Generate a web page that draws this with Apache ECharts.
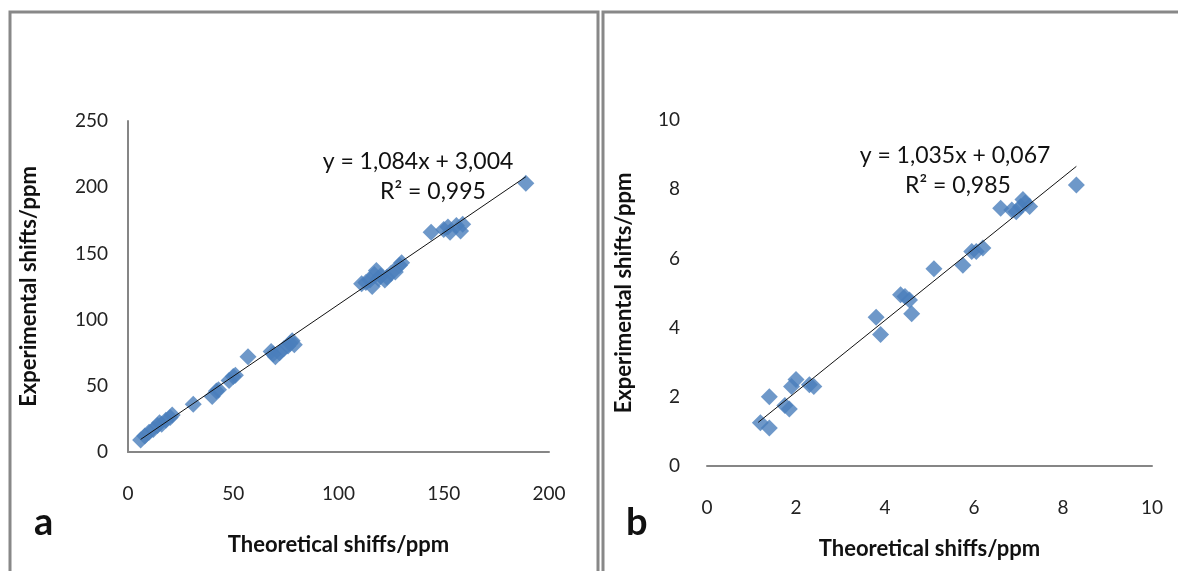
<!DOCTYPE html>
<html>
<head>
<meta charset="UTF-8">
<title>Shifts</title>
<script src="https://cdn.jsdelivr.net/npm/echarts@6/dist/echarts.min.js"></script>
<style>
  html, body { margin: 0; padding: 0; background: #fff; }
  #main { width: 1178px; height: 571px; }
</style>
</head>
<body>
<div id="main"></div>
<script>
// panel a: 13C shifts
var thA  = [6, 8, 10, 12, 14, 15, 16, 18, 20, 21, 31, 40, 42, 43, 48, 50, 51, 57, 68, 69, 70, 72, 74, 76, 77, 78, 79,
            111, 113, 115, 116, 117, 118, 119, 120, 122, 123, 125, 127, 129, 130, 144, 150, 152, 153, 156, 158, 159, 189];
var expA = [9, 12, 15, 17, 20, 22, 21, 24, 26, 28, 36, 42, 46, 47, 54, 57, 58, 72, 76, 74, 72, 75, 78, 80, 82, 84, 81,
            127, 128, 130, 125, 134, 137, 131, 133, 130, 132, 135, 136, 141, 143, 166, 168, 170, 166, 171, 167, 172, 203];
var trendA = [[6, 9.5], [189, 207.9]];

// panel b: 1H shifts
var thB  = [1.2, 1.4, 1.4, 1.75, 1.85, 1.9, 2.0, 2.3, 2.4, 3.8, 3.9, 4.35, 4.45, 4.55, 4.6, 5.1, 5.75, 5.95, 6.05, 6.2,
            6.6, 6.85, 6.95, 7.05, 7.1, 7.15, 7.25, 8.3];
var expB = [1.25, 1.1, 2.0, 1.75, 1.65, 2.3, 2.5, 2.35, 2.3, 4.3, 3.8, 4.95, 4.9, 4.8, 4.4, 5.7, 5.8, 6.2, 6.2, 6.3,
            7.45, 7.4, 7.35, 7.5, 7.7, 7.6, 7.5, 8.12];
var trendB = [[1.15, 1.26], [8.3, 8.66]];

var eqA = ['y = 1,084x + 3,004', 'R\u00b2 = 0,995'];
var eqB = ['y = 1,035x + 0,067', 'R\u00b2 = 0,985'];

function pairs(xs, ys) {
  var out = [];
  for (var i = 0; i < xs.length; i++) out.push([xs[i], ys[i]]);
  return out;
}

var font = 'Lato, "Open Sans", sans-serif';
var blue = '#4a7ebb';
var axisGrey = '#868686';

function xAx(idx, max, interval, showLine, gap) {
  return {
    type: 'value', gridIndex: idx, min: 0, max: max, interval: interval,
    name: 'Theoretical shiffs/ppm', nameLocation: 'middle', nameGap: gap,
    nameTextStyle: { fontFamily: font, fontWeight: 'bold', fontSize: 22, color: '#111' },
    axisLine: { show: showLine, lineStyle: { color: axisGrey, width: 2 } },
    axisTick: { show: false },
    splitLine: { show: false },
    axisLabel: { fontFamily: font, fontSize: 19, color: '#222', margin: 32 }
  };
}
function yAx(idx, max, interval, showLine, gap, margin) {
  return {
    type: 'value', gridIndex: idx, min: 0, max: max, interval: interval,
    name: 'Experimental shifts/ppm', nameLocation: 'middle', nameGap: gap,
    nameTextStyle: { fontFamily: font, fontWeight: 'bold', fontSize: 22, color: '#111' },
    axisLine: { show: showLine, lineStyle: { color: axisGrey, width: 2 } },
    axisTick: { show: false },
    splitLine: { show: false },
    axisLabel: { fontFamily: font, fontSize: 19, color: '#222', margin: margin }
  };
}

var chart = echarts.init(document.getElementById('main'));
var option = {
  animation: false,
  backgroundColor: '#fff',
  grid: [
    { left: 128, top: 121, width: 421, height: 331 },
    { left: 707, top: 120, width: 445, height: 346 }
  ],
  xAxis: [xAx(0, 200, 50, true, 82), xAx(1, 10, 2, true, 72)],
  yAxis: [yAx(0, 250, 50, true, 88, 20), yAx(1, 10, 2, false, 72, 27)],
  graphic: [
    { type: 'rect', shape: { x: 10, y: 12, width: 588, height: 620 },
      style: { fill: 'none', stroke: '#888', lineWidth: 3 } },
    { type: 'rect', shape: { x: 603, y: 12, width: 620, height: 620 },
      style: { fill: 'none', stroke: '#888', lineWidth: 3 } },
    { type: 'text', left: 34, top: 504, style: { text: 'a', font: 'bold 38px ' + font, fill: '#111' } },
    { type: 'text', left: 626, top: 504, style: { text: 'b', font: 'bold 38px ' + font, fill: '#111' } },
    { type: 'text', x: 418, y: 162, style: { text: eqA[0], font: '23px ' + font, fill: '#111', textAlign: 'center', textVerticalAlign: 'middle' } },
    { type: 'text', x: 433, y: 192, style: { text: eqA[1], font: '23px ' + font, fill: '#111', textAlign: 'center', textVerticalAlign: 'middle' } },
    { type: 'text', x: 955, y: 156, style: { text: eqB[0], font: '23px ' + font, fill: '#111', textAlign: 'center', textVerticalAlign: 'middle' } },
    { type: 'text', x: 958, y: 186, style: { text: eqB[1], font: '23px ' + font, fill: '#111', textAlign: 'center', textVerticalAlign: 'middle' } }
  ],
  series: [
    { type: 'scatter', xAxisIndex: 0, yAxisIndex: 0, symbol: 'diamond', symbolSize: [17, 17],
      itemStyle: { color: blue }, data: pairs(thA, expA), z: 2 },
    { type: 'line', xAxisIndex: 0, yAxisIndex: 0, symbol: 'none', data: trendA,
      lineStyle: { color: '#111', width: 1 }, z: 3 },
    { type: 'scatter', xAxisIndex: 1, yAxisIndex: 1, symbol: 'diamond', symbolSize: [17, 17],
      itemStyle: { color: blue }, data: pairs(thB, expB), z: 2 },
    { type: 'line', xAxisIndex: 1, yAxisIndex: 1, symbol: 'none', data: trendB,
      lineStyle: { color: '#111', width: 1 }, z: 3 }
  ]
};
chart.setOption(option);
</script>
</body>
</html>
